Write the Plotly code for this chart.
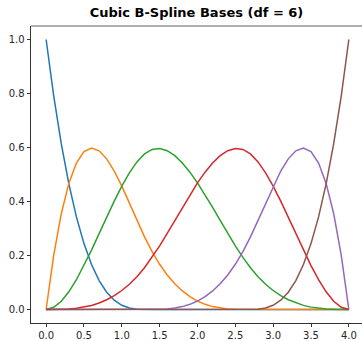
import plotly.graph_objects as go

# x sample positions
x = [0.0, 0.1, 0.2, 0.3, 0.4, 0.5, 0.6, 0.7, 0.8, 0.9, 1.0,
     1.1, 1.2, 1.3, 1.4, 1.5, 1.6, 1.7, 1.8, 1.9, 2.0,
     2.1, 2.2, 2.3, 2.4, 2.5, 2.6, 2.7, 2.8, 2.9, 3.0,
     3.1, 3.2, 3.3, 3.4, 3.5, 3.6, 3.7, 3.8, 3.9, 4.0]

basis_0 = [1.0, 0.7915, 0.6141, 0.4655, 0.343, 0.2441, 0.1664, 0.1072, 0.064, 0.0343, 0.0156,
           0.0054, 0.001, 0.0, 0.0, 0.0, 0.0, 0.0, 0.0, 0.0, 0.0,
           0.0, 0.0, 0.0, 0.0, 0.0, 0.0, 0.0, 0.0, 0.0, 0.0,
           0.0, 0.0, 0.0, 0.0, 0.0, 0.0, 0.0, 0.0, 0.0, 0.0]
basis_1 = [0.0, 0.2004, 0.3547, 0.4671, 0.5423, 0.5845, 0.5982, 0.5879, 0.558, 0.5129, 0.457,
           0.3948, 0.3308, 0.2692, 0.2143, 0.1675, 0.128, 0.0953, 0.0687, 0.0475, 0.0313,
           0.0192, 0.0107, 0.0052, 0.002, 0.0005, 0.0, 0.0, 0.0, 0.0, 0.0,
           0.0, 0.0, 0.0, 0.0, 0.0, 0.0, 0.0, 0.0, 0.0, 0.0]
basis_2 = [0.0, 0.0081, 0.0307, 0.0655, 0.1103, 0.1626, 0.2202, 0.2808, 0.342, 0.4015, 0.457,
           0.5062, 0.5468, 0.5763, 0.5928, 0.5962, 0.588, 0.5697, 0.5427, 0.5086, 0.4688,
           0.4247, 0.3779, 0.3298, 0.282, 0.2358, 0.1928, 0.1545, 0.1215, 0.0936, 0.0703,
           0.0513, 0.036, 0.0241, 0.0152, 0.0088, 0.0045, 0.0019, 0.0006, 0.0001, 0.0]
basis_3 = [0.0, 0.0001, 0.0006, 0.0019, 0.0045, 0.0088, 0.0152, 0.0241, 0.036, 0.0513, 0.0703,
           0.0936, 0.1215, 0.1545, 0.1928, 0.2358, 0.282, 0.3298, 0.3779, 0.4247, 0.4688,
           0.5086, 0.5427, 0.5697, 0.588, 0.5962, 0.5928, 0.5763, 0.5468, 0.5062, 0.457,
           0.4015, 0.342, 0.2808, 0.2202, 0.1626, 0.1103, 0.0655, 0.0307, 0.0081, 0.0]
basis_4 = [0.0, 0.0, 0.0, 0.0, 0.0, 0.0, 0.0, 0.0, 0.0, 0.0, 0.0,
           0.0, 0.0, 0.0, 0.0, 0.0005, 0.002, 0.0052, 0.0107, 0.0192, 0.0313,
           0.0475, 0.0687, 0.0953, 0.128, 0.1675, 0.2143, 0.2692, 0.3308, 0.3948, 0.457,
           0.5129, 0.558, 0.5879, 0.5982, 0.5845, 0.5423, 0.4671, 0.3547, 0.2004, 0.0]
basis_5 = [0.0, 0.0, 0.0, 0.0, 0.0, 0.0, 0.0, 0.0, 0.0, 0.0, 0.0,
           0.0, 0.0, 0.0, 0.0, 0.0, 0.0, 0.0, 0.0, 0.0, 0.0,
           0.0, 0.0, 0.0, 0.0, 0.0, 0.0, 0.0, 0.001, 0.0054,
           0.0156, 0.0343, 0.064, 0.1072, 0.1664, 0.2441, 0.343, 0.4655, 0.6141, 0.7915, 1.0]

series = [basis_0, basis_1, basis_2, basis_3, basis_4, basis_5]
colors = ["#1f77b4", "#ff7f0e", "#2ca02c", "#d62728", "#9467bd", "#8c564b"]

x_ticks = [0.0, 0.5, 1.0, 1.5, 2.0, 2.5, 3.0, 3.5, 4.0]
x_tick_text = ["0.0", "0.5", "1.0", "1.5", "2.0", "2.5", "3.0", "3.5", "4.0"]
y_ticks = [0.0, 0.2, 0.4, 0.6, 0.8, 1.0]
y_tick_text = ["0.0", "0.2", "0.4", "0.6", "0.8", "1.0"]

fig = go.Figure()
for ys, c in zip(series, colors):
    fig.add_trace(go.Scatter(x=x, y=ys, mode="lines",
                             line=dict(color=c, width=1.5), showlegend=False))

fig.update_layout(
    width=362, height=341,
    margin=dict(l=31, r=0, t=26, b=18),
    paper_bgcolor="white", plot_bgcolor="white",
    font=dict(family="DejaVu Sans", size=10, color="#262626"),
    title=dict(text="<b>Cubic B-Spline Bases (df = 6)</b>",
               font=dict(family="DejaVu Sans", size=13, color="black"),
               x=0.5, xref="paper", xanchor="center",
               y=1 - 12.5 / 341, yref="container", yanchor="middle"),
    xaxis=dict(range=[-0.2, 4.174], tickvals=x_ticks, ticktext=x_tick_text,
               showgrid=False, zeroline=False, showline=True, linecolor="#333",
               linewidth=0.8, ticks="outside", ticklen=3.5, tickwidth=0.8,
               tickcolor="#333", automargin=False),
    yaxis=dict(range=[-0.05, 1.05], tickvals=y_ticks, ticktext=y_tick_text,
               showgrid=False, zeroline=False, showline=True, linecolor="#333",
               linewidth=0.8, ticks="outside", ticklen=3.5, tickwidth=0.8,
               tickcolor="#333", automargin=False),
    shapes=[dict(type="line", xref="paper", yref="paper", x0=0, x1=1, y0=1, y1=1,
                 line=dict(color="#333", width=0.8))],
)

fig.write_html("out.html",
               config={"displayModeBar": False},
               post_script="document.body.style.margin='0';document.body.style.overflow='hidden';")
